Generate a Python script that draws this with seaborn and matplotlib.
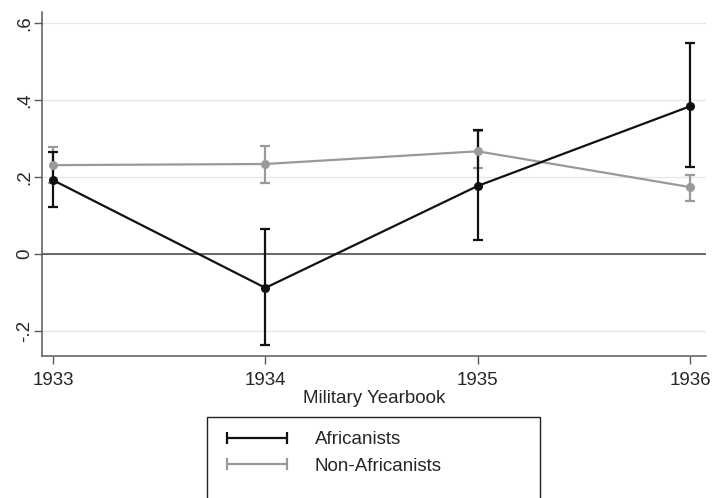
import pandas as pd
import seaborn as sns
from matplotlib import pyplot as plt
from matplotlib.lines import Line2D

years = [1933, 1934, 1935, 1936]
afr_est = [0.192, -0.088, 0.177, 0.384]
afr_lo = [0.122, -0.236, 0.036, 0.226]
afr_hi = [0.265, 0.065, 0.322, 0.548]
non_est = [0.231, 0.234, 0.267, 0.174]
non_lo = [0.185, 0.184, 0.223, 0.138]
non_hi = [0.278, 0.280, 0.320, 0.205]
groups = ["Africanists", "Non-Africanists"]
yticks = [-0.2, 0, 0.2, 0.4, 0.6]
ytick_labels = ["-.2", "0", ".2", ".4", ".6"]

colors = {"Africanists": "#111111", "Non-Africanists": "#9a9a9a"}

df = pd.concat([
    pd.DataFrame({"year": years, "est": afr_est, "lo": afr_lo, "hi": afr_hi, "group": groups[0]}),
    pd.DataFrame({"year": years, "est": non_est, "lo": non_lo, "hi": non_hi, "group": groups[1]}),
])

sns.set_style("white")
plt.rcParams["font.family"] = ["Liberation Sans", "DejaVu Sans"]
fs = 13.5

fig = plt.figure(figsize=(7.14, 4.98), dpi=100)
ax = fig.add_axes([42 / 714, 1 - 356 / 498, 664 / 714, 344 / 498])

spine_col = "#5a5a5a"
ax.yaxis.grid(True, color="#e6e6e6", lw=0.9)
ax.set_axisbelow(True)
ax.axhline(0, color="#444444", lw=1.1, zorder=1)

for g in ["Non-Africanists", "Africanists"]:
    sub = df[df.group == g]
    ax.errorbar(sub.year, sub.est, yerr=[sub.est - sub.lo, sub.hi - sub.est],
                fmt="none", ecolor=colors[g], elinewidth=1.6, capsize=3.3,
                capthick=1.6, zorder=2)

sns.lineplot(df, x="year", y="est", hue="group", hue_order=["Non-Africanists", "Africanists"],
             palette=colors, marker="o", markersize=6.5, markeredgewidth=0,
             linewidth=1.6, legend=False, ax=ax, zorder=3)

ax.set_xlim(1932.948, 1936.075)
ax.set_ylim(-0.265, 0.629)
ax.set_xticks(years)
ax.set_xticklabels([str(y) for y in years], fontsize=fs)
ax.set_yticks(yticks)
ax.set_yticklabels(ytick_labels, fontsize=fs, rotation=90, va="center")
ax.set_xlabel("Military Yearbook", fontsize=fs, labelpad=1)
ax.set_ylabel("")
ax.spines[["top", "right"]].set_visible(False)
for s in ["left", "bottom"]:
    ax.spines[s].set_color(spine_col)
    ax.spines[s].set_linewidth(1.1)
ax.tick_params(axis="both", direction="out", length=5.5, width=1, color=spine_col, bottom=True, left=True)
ax.tick_params(axis="x", pad=6)
ax.tick_params(axis="y", pad=1)

handles = [
    Line2D([0], [0], color=colors[g], lw=1.6, marker="|", markersize=8, markeredgewidth=1.6)
    for g in groups
]
handles.append(Line2D([], [], color="none"))
leg = fig.legend(handles, groups + [" "], loc="upper left",
                 bbox_to_anchor=(207 / 714, 0, 333 / 714, 1 - 417 / 498), mode="expand",
                 numpoints=2, handlelength=3.8, handletextpad=1.2, borderpad=0.75,
                 labelspacing=0.5, fontsize=fs, frameon=True, fancybox=False,
                 framealpha=1, borderaxespad=0)
leg.get_frame().set_edgecolor("#222222")
leg.get_frame().set_linewidth(1.0)

fig.savefig("out.png", dpi=100)
